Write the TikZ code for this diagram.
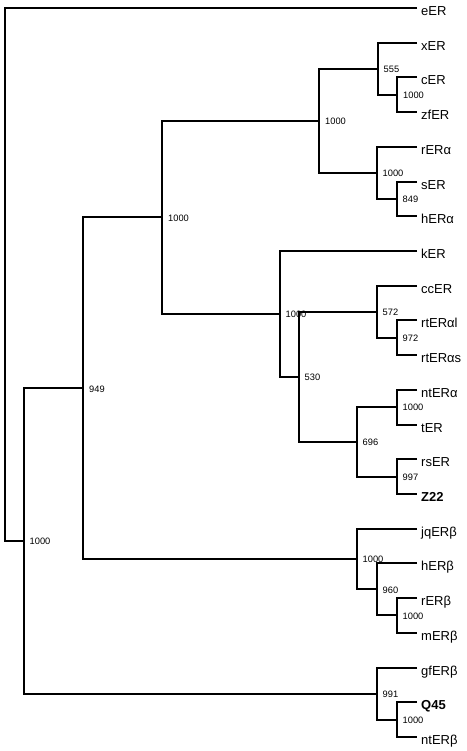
\documentclass[tikz,border=0pt]{standalone}
\usepackage{fontspec}
\setmainfont{Liberation Sans}
\begin{document}
\begin{tikzpicture}[x=1pt,y=-1pt,
  branch/.style={line width=2pt, line join=miter},
  leaf/.style={anchor=base west, inner sep=0pt, font=\fontsize{13}{15}\selectfont},
  boot/.style={anchor=base west, inner sep=0pt, font=\fontsize{9.3}{11}\selectfont}]
\useasboundingbox (0,0) rectangle (466,751);
% leaf tips
\coordinate (t0) at (417,8.0);
\coordinate (t1) at (417,42.7);
\coordinate (t2) at (417,77.4);
\coordinate (t3) at (417,112.1);
\coordinate (t4) at (417,146.8);
\coordinate (t5) at (417,181.6);
\coordinate (t6) at (417,216.3);
\coordinate (t7) at (417,251.0);
\coordinate (t8) at (417,285.7);
\coordinate (t9) at (417,320.4);
\coordinate (t10) at (417,355.1);
\coordinate (t11) at (417,389.8);
\coordinate (t12) at (417,424.5);
\coordinate (t13) at (417,459.2);
\coordinate (t14) at (417,493.9);
\coordinate (t15) at (417,528.7);
\coordinate (t16) at (417,563.4);
\coordinate (t17) at (417,598.1);
\coordinate (t18) at (417,632.8);
\coordinate (t19) at (417,667.5);
\coordinate (t20) at (417,702.2);
\coordinate (t21) at (417,736.9);
% leaf labels
\node[leaf] (eER) at (421,15.5) {eER};
\node[leaf] (xER) at (421,50.2) {xER};
\node[leaf] (cER) at (421,84.9) {cER};
\node[leaf] (zfER) at (421,119.6) {zfER};
\node[leaf] (rERa) at (421,154.3) {rERα};
\node[leaf] (sER) at (421,189.1) {sER};
\node[leaf] (hERa) at (421,223.8) {hERα};
\node[leaf] (kER) at (421,258.5) {kER};
\node[leaf] (ccER) at (421,293.2) {ccER};
\node[leaf] (rtERal) at (421,327.9) {rtERαl};
\node[leaf] (rtERas) at (421,362.6) {rtERαs};
\node[leaf] (ntERa) at (421,397.3) {ntERα};
\node[leaf] (tER) at (421,432.0) {tER};
\node[leaf] (rsER) at (421,466.7) {rsER};
\node[leaf] (Z22) at (421,501.4) {\textbf{Z22}};
\node[leaf] (jqERb) at (421,536.2) {jqERβ};
\node[leaf] (hERb) at (421,570.9) {hERβ};
\node[leaf] (rERb) at (421,605.6) {rERβ};
\node[leaf] (mERb) at (421,640.3) {mERβ};
\node[leaf] (gfERb) at (421,675.0) {gfERβ};
\node[leaf] (Q45) at (421,709.7) {\textbf{Q45}};
\node[leaf] (ntERb) at (421,744.4) {ntERβ};
% internal nodes
\coordinate (ncz) at (397,94.75);
\coordinate (n555) at (378,68.7);
\coordinate (nsh) at (397,198.95);
\coordinate (nr) at (377,172.9);
\coordinate (ntop) at (319,120.8);
\coordinate (nrt) at (397,337.75);
\coordinate (n572) at (377,311.7);
\coordinate (nnt) at (397,407.15);
\coordinate (n997) at (397,476.55);
\coordinate (n696) at (357,441.85);
\coordinate (n530) at (299,376.8);
\coordinate (nA) at (280,313.9);
\coordinate (nB) at (162,217.35);
\coordinate (nmr) at (397,615.45);
\coordinate (n960) at (377,589.4);
\coordinate (njq) at (357,559.05);
\coordinate (n949) at (83,388.2);
\coordinate (nqn) at (397,719.55);
\coordinate (n991) at (377,693.5);
\coordinate (nR) at (24,540.85);
\coordinate (root) at (5,274.4);
% branches
\draw[branch] (t2) -| (ncz) |- (t3);
\draw[branch] (t1) -| (n555) |- (ncz);
\draw[branch] (t5) -| (nsh) |- (t6);
\draw[branch] (t4) -| (nr) |- (nsh);
\draw[branch] (n555) -| (ntop) |- (nr);
\draw[branch] (t9) -| (nrt) |- (t10);
\draw[branch] (t8) -| (n572) |- (nrt);
\draw[branch] (t11) -| (nnt) |- (t12);
\draw[branch] (t13) -| (n997) |- (t14);
\draw[branch] (nnt) -| (n696) |- (n997);
\draw[branch] (n572) -| (n530) |- (n696);
\draw[branch] (t7) -| (nA) |- (n530);
\draw[branch] (ntop) -| (nB) |- (nA);
\draw[branch] (t17) -| (nmr) |- (t18);
\draw[branch] (t16) -| (n960) |- (nmr);
\draw[branch] (t15) -| (njq) |- (n960);
\draw[branch] (nB) -| (n949) |- (njq);
\draw[branch] (t20) -| (nqn) |- (t21);
\draw[branch] (t19) -| (n991) |- (nqn);
\draw[branch] (n949) -| (nR) |- (n991);
\draw[branch] (t0) -| (root) |- (nR);
% bootstrap labels
\node[boot] (bcz) at (403,98.55) {1000};
\node[boot] (b555) at (383.5,72.5) {555};
\node[boot] (bsh) at (402.5,202.75) {849};
\node[boot] (br) at (382.5,176.7) {1000};
\node[boot] (btop) at (325,124.6) {1000};
\node[boot] (brt) at (402.5,341.55) {972};
\node[boot] (b572) at (382.5,315.5) {572};
\node[boot] (bnt) at (402.5,410.95) {1000};
\node[boot] (b997) at (402.5,480.35) {997};
\node[boot] (b696) at (362.5,445.65) {696};
\node[boot] (b530) at (304.5,380.6) {530};
\node[boot] (bA) at (285.5,317.7) {1000};
\node[boot] (bB) at (168,221.15) {1000};
\node[boot] (bmr) at (402.5,619.25) {1000};
\node[boot] (b960) at (382.5,593.2) {960};
\node[boot] (bjq) at (362.5,562.85) {1000};
\node[boot] (b949) at (89,392.0) {949};
\node[boot] (bqn) at (402.5,723.35) {1000};
\node[boot] (b991) at (382.5,697.3) {991};
\node[boot] (bR) at (29.5,544.65) {1000};
\end{tikzpicture}
\end{document}
